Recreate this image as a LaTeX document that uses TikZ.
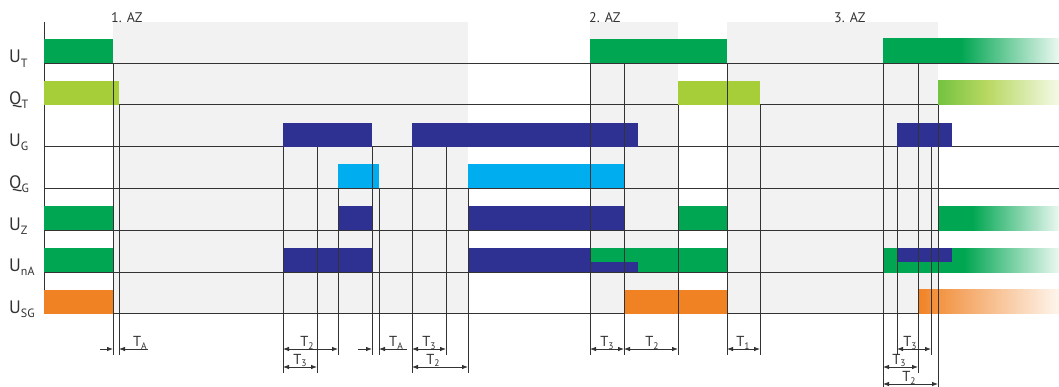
\documentclass[tikz,border=0pt]{standalone}
\usepackage{fontspec}
\setmainfont{PT Sans}
\usetikzlibrary{arrows.meta}
\definecolor{dg}{HTML}{00A651}
\definecolor{lg}{HTML}{A6CE39}
\definecolor{db}{HTML}{2E3192}
\definecolor{cy}{HTML}{00AEEF}
\definecolor{og}{HTML}{F08224}
\definecolor{bg}{HTML}{F2F2F2}
\definecolor{ln}{HTML}{333333}
\pgfdeclarehorizontalshading{gUT}{100bp}{color(0bp)=(dg); color(25bp)=(dg); color(47bp)=(dg); color(75bp)=(dg!8); color(100bp)=(dg!8)}
\pgfdeclarehorizontalshading{gUZ}{100bp}{color(0bp)=(dg); color(25bp)=(dg); color(39bp)=(dg); color(75bp)=(dg!8); color(100bp)=(dg!8)}
\pgfdeclarehorizontalshading{gUN}{100bp}{color(0bp)=(dg); color(25bp)=(dg); color(48bp)=(dg); color(75bp)=(dg!8); color(100bp)=(dg!8)}
\pgfdeclarehorizontalshading{gQT}{100bp}{color(0bp)=(lg!70!dg); color(25bp)=(lg!70!dg); color(45bp)=(lg!80); color(75bp)=(lg!12); color(100bp)=(lg!12)}
\pgfdeclarehorizontalshading{gSG}{100bp}{color(0bp)=(og); color(25bp)=(og); color(30bp)=(og!90); color(75bp)=(og!8); color(100bp)=(og!8)}
\newcommand\sbs[1]{\raisebox{-0.45ex}{\fontsize{12}{12}\selectfont #1}}
\newcommand\tsb[1]{\raisebox{-0.4ex}{\fontsize{9.5}{9.5}\selectfont #1}}
\newcommand\tbar[4]{\fill[#4] (#2,#1-24) rectangle (#3,#1);}
\newcommand\tshade[4]{\shade[shading=#4] (#2,#1-24) rectangle (#3,#1);}
\begin{document}
\begin{tikzpicture}[x=1pt,y=-1pt,
  base/.style={draw=ln,line width=0.8pt},
  vline/.style={draw=ln,line width=0.8pt},
  dim/.style={draw=ln,line width=0.8pt,{Latex[length=6pt,width=4.5pt]}-{Latex[length=6pt,width=4.5pt]}},
  dimin/.style={draw=ln,line width=0.8pt,-{Latex[length=6pt,width=4.5pt]}},
  rowlbl/.style={anchor=base west,inner sep=0pt,text=ln,font=\fontsize{18}{18}\selectfont},
  azlbl/.style={anchor=base west,inner sep=0pt,text=ln,font=\fontsize{14}{14}\selectfont},
  tlbl/.style={anchor=base,inner sep=0pt,text=ln,font=\fontsize{14.5}{14.5}\selectfont}]
\useasboundingbox (0,0) rectangle (1059,387);
\fill[white] (0,0) rectangle (1059,387);
% grey zones
\fill[bg] (113,22) rectangle (468,313.8);
\fill[bg] (590,22) rectangle (678,313.8);
\fill[bg] (727,22) rectangle (938,313.8);
% axis and baselines
\draw[base] (44,22) -- (44,313.8);
\foreach \y in {63,104.8,146.6,188.4,230.2,272,313.8} \draw[base] (44,\y) -- (1059,\y);
% U_T
\tbar{63}{44}{113}{dg}
\tbar{63}{590}{727}{dg}
\tshade{63}{883}{1059}{gUT}
% Q_T
\tbar{104.8}{44}{119}{lg}
\tbar{104.8}{678}{760}{lg}
\tshade{104.8}{938}{1059}{gQT}
% U_G
\tbar{146.6}{283}{372}{db}
\tbar{146.6}{412}{638}{db}
\tbar{146.6}{897}{952}{db}
% Q_G
\tbar{188.4}{338}{379}{cy}
\tbar{188.4}{468}{624}{cy}
% U_Z
\tbar{230.2}{44}{113}{dg}
\tbar{230.2}{338}{372}{db}
\tbar{230.2}{468}{624}{db}
\tbar{230.2}{678}{727}{dg}
\tshade{230.2}{938}{1059}{gUZ}
% U_nA
\tbar{272}{44}{113}{dg}
\tbar{272}{283}{372}{db}
\tbar{272}{468}{590}{db}
\tbar{272}{590}{727}{dg}
\fill[db] (590,262) rectangle (638,272);
\tshade{272}{883}{1059}{gUN}
\fill[db] (897,248) rectangle (952,262);
% U_SG
\tbar{313.8}{44}{113}{og}
\tbar{313.8}{624}{727}{og}
\tshade{313.8}{918}{1059}{gSG}
% vertical event lines
\foreach \x/\a/\b in {113/63/355,119/104.8/355,283/146.6/373,317/146.6/373,338/188.4/355,372/146.6/355,379/188.4/355,412/146.6/373,446/146.6/355,468/188.4/373,590/63/355,624/63/355,678/104.8/355,727/63/355,760/104.8/355,883/63/387,897/146.6/355,918/63/373,931/146.6/355,938/104.8/387}
  \draw[vline] (\x,\a) -- (\x,\b);
% row labels
\node[rowlbl] (lUT) at (9,63) {U\sbs{T}};
\node[rowlbl] (lQT) at (9,104.5) {Q\sbs{T}};
\node[rowlbl] (lUG) at (9,146.5) {U\sbs{G}};
\node[rowlbl] (lQG) at (9,188.5) {Q\sbs{G}};
\node[rowlbl] (lUZ) at (9,230) {U\sbs{Z}};
\node[rowlbl] (lUnA) at (9,271.5) {U\sbs{nA}};
\node[rowlbl] (lUSG) at (9,313.5) {U\sbs{SG}};
% AZ labels
\node[azlbl] (az1) at (111,22.5) {1. AZ};
\node[azlbl] (az2) at (589,22.5) {2. AZ};
\node[azlbl] (az3) at (834,22.5) {3. AZ};
% dimensions
\draw[dimin] (100,349) -- (113,349);
\draw[dimin] (148,349) -- (119,349);
\node[tlbl] (tA1) at (140,346.5) {T\tsb{A}};
\draw[dim] (283,349) -- (338,349);
\node[tlbl] (t21) at (307,346.5) {T\tsb{2}};
\draw[dim] (283,367) -- (317,367);
\node[tlbl] (t31) at (300,364) {T\tsb{3}};
\draw[dimin] (358,349) -- (372,349);
\draw[dimin] (407,349) -- (379,349);
\node[tlbl] (tA2) at (396,346.5) {T\tsb{A}};
\draw[dim] (412,349) -- (446,349);
\node[tlbl] (t32) at (429,346.5) {T\tsb{3}};
\draw[dim] (412,367) -- (468,367);
\node[tlbl] (t22) at (433,364) {T\tsb{2}};
\draw[dim] (590,349) -- (624,349);
\node[tlbl] (t33) at (607,346.5) {T\tsb{3}};
\draw[dim] (624,349) -- (678,349);
\node[tlbl] (t23) at (652,346.5) {T\tsb{2}};
\draw[dim] (727,349) -- (760,349);
\node[tlbl] (t1) at (743,346.5) {T\tsb{1}};
\draw[dim] (897,349) -- (931,349);
\node[tlbl] (t34) at (910,346.5) {T\tsb{3}};
\draw[dim] (883,367) -- (918,367);
\node[tlbl] (t35) at (899,364) {T\tsb{3}};
\draw[dim] (883,384) -- (938,384);
\node[tlbl] (t24) at (909,381.5) {T\tsb{2}};
\end{tikzpicture}
\end{document}
